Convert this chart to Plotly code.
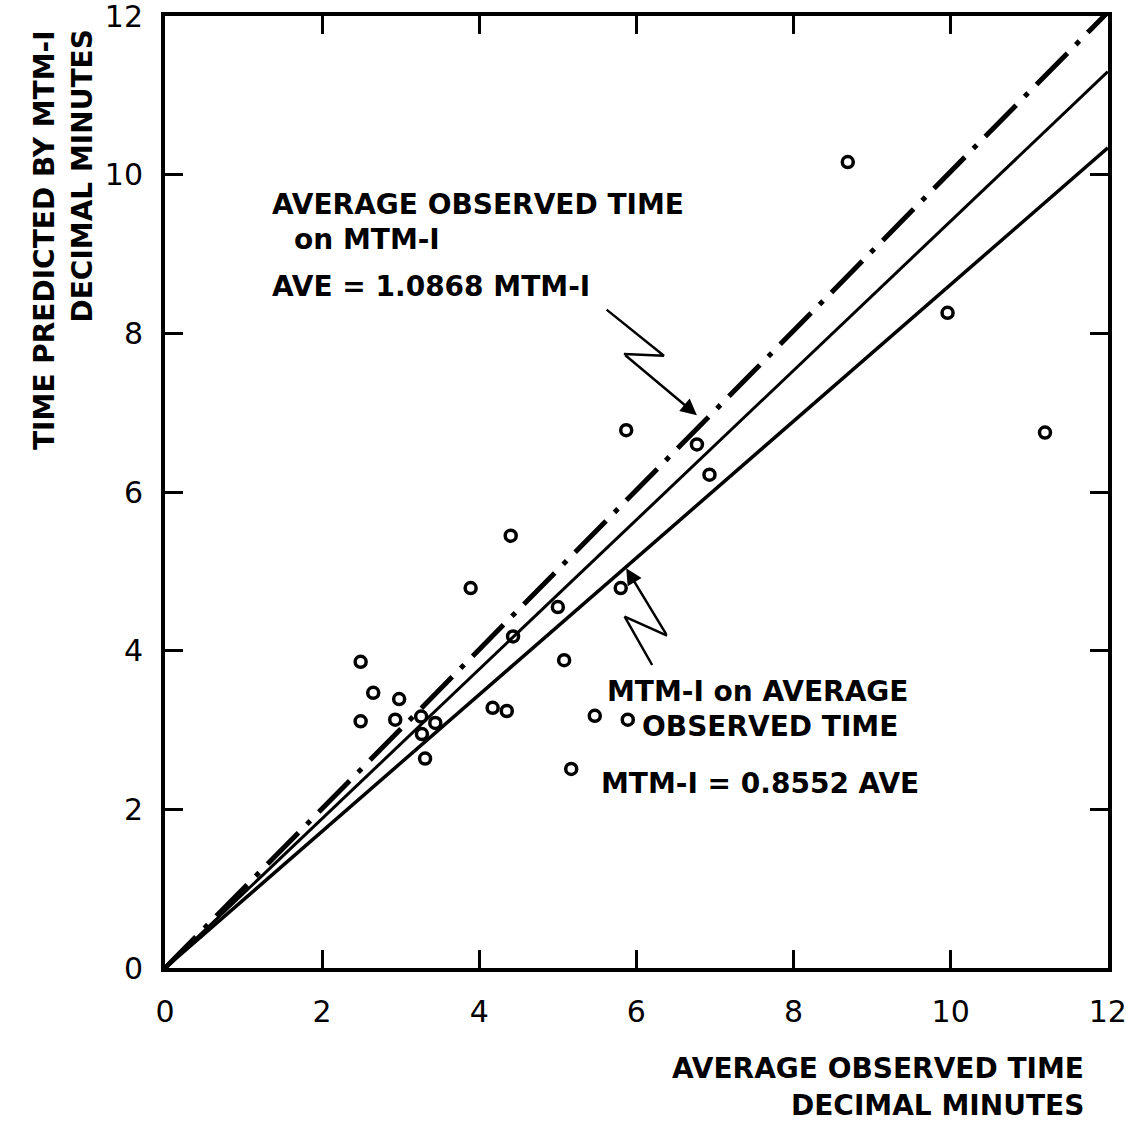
import plotly.graph_objects as go

# ---- data ----
obs_time = [8.69, 9.96, 11.20, 6.77, 6.93, 5.87, 4.40, 3.89, 5.80, 5.00, 4.43, 5.08,
            2.49, 2.65, 2.98, 2.49, 2.93, 3.27, 3.44, 3.31, 4.17, 4.35, 5.47, 5.89, 5.17, 3.26]
mtm_time = [10.16, 8.26, 6.75, 6.60, 6.22, 6.78, 5.45, 4.79, 4.79, 4.55, 4.18, 3.88,
            3.86, 3.47, 3.39, 3.11, 3.13, 2.95, 3.09, 2.64, 3.28, 3.24, 3.18, 3.13, 2.51, 3.17]

line_x = [0, 12]
equal_y = [0, 12.05]          # dash-dot line
ave_on_mtm_y = [0, 11.30]     # AVE = 1.0868 MTM-1
mtm_on_ave_y = [0, 10.34]     # MTM-1 = 0.8552 AVE

tick_vals = [0, 2, 4, 6, 8, 10, 12]
tick_text = ["0", "2", "4", "6", "8", "10", "12"]

# zig-zag pointer geometry (data units)
zig1_x = [5.62, 6.35, 5.84, 6.77]
zig1_y = [8.30, 7.72, 7.74, 6.97]
zig2_x = [6.20, 5.85, 6.39, 5.87]
zig2_y = [3.82, 4.43, 4.19, 5.04]

FONT = "DejaVu Sans"
fig = go.Figure()

fig.add_trace(go.Scatter(x=line_x, y=equal_y, mode="lines",
                         line=dict(color="black", width=5, dash="44px,12px,5px,12px"),
                         showlegend=False, hoverinfo="skip"))
fig.add_trace(go.Scatter(x=line_x, y=ave_on_mtm_y, mode="lines",
                         line=dict(color="black", width=3), showlegend=False, hoverinfo="skip"))
fig.add_trace(go.Scatter(x=line_x, y=mtm_on_ave_y, mode="lines",
                         line=dict(color="black", width=3.5), showlegend=False, hoverinfo="skip"))

fig.add_trace(go.Scatter(x=obs_time, y=mtm_time, mode="markers",
                         marker=dict(symbol="circle-open", size=11, color="black",
                                     line=dict(width=3.5, color="black")),
                         showlegend=False))

# zig-zag pointers
for zx, zy in ((zig1_x, zig1_y), (zig2_x, zig2_y)):
    fig.add_trace(go.Scatter(x=zx[:-1], y=zy[:-1], mode="lines",
                             line=dict(color="black", width=2.5), showlegend=False, hoverinfo="skip"))
    fig.add_annotation(x=zx[-1], y=zy[-1], ax=zx[-2], ay=zy[-2], xref="x", yref="y",
                       axref="x", ayref="y", text="", showarrow=True, arrowhead=2,
                       arrowsize=1.3, arrowwidth=2.5, arrowcolor="black")

tfont = dict(family=FONT, size=28, color="black", weight="bold")
labels = [
    (1.34, 9.63, "AVERAGE OBSERVED TIME"),
    (1.62, 9.18, "on MTM-I"),
    (1.34, 8.59, "AVE = 1.0868 MTM-I"),
    (5.60, 3.49, "MTM-I on AVERAGE"),
    (6.04, 3.04, "OBSERVED TIME"),
    (5.53, 2.32, "MTM-I = 0.8552 AVE"),
]
for x, y, t in labels:
    fig.add_annotation(x=x, y=y, xref="x", yref="y", text=t, showarrow=False,
                       xanchor="left", yanchor="middle", font=tfont)

# axis titles (positions given in pixels from the top-left, converted below)
fig.add_annotation(x=45, y=28, xref="paper", yref="paper", text="TIME PREDICTED BY MTM-I",
                   showarrow=False, textangle=-90, xanchor="center", yanchor="top", font=tfont)
fig.add_annotation(x=82, y=28, xref="paper", yref="paper", text="DECIMAL MINUTES",
                   showarrow=False, textangle=-90, xanchor="center", yanchor="top", font=tfont)
fig.add_annotation(x=1086, y=1068, xref="paper", yref="paper", text="AVERAGE OBSERVED TIME",
                   showarrow=False, xanchor="right", yanchor="middle", font=tfont)
fig.add_annotation(x=1086, y=1105, xref="paper", yref="paper", text="DECIMAL MINUTES",
                   showarrow=False, xanchor="right", yanchor="middle", font=tfont)

L, R, T, B = 165, 18, 16, 158
W = H = 1126
pw, ph = W - L - R, H - T - B
for a in fig.layout.annotations:
    if a.xref == "paper":
        a.x = (a.x - L) / pw
        a.y = (H - a.y - B) / ph

axis_common = dict(range=[0, 12.002], tickvals=tick_vals, ticktext=tick_text,
                   ticks="inside", ticklen=18, tickwidth=3, tickcolor="black",
                   showline=True, linewidth=4, linecolor="black", mirror="ticks",
                   showgrid=False, zeroline=False, ticklabeloverflow="allow",
                   automargin=False,
                   tickfont=dict(family=FONT, size=30, color="black"))
fig.update_xaxes(**axis_common, ticklabelstandoff=14)
fig.update_yaxes(**axis_common, ticklabelstandoff=12)

fig.update_layout(width=W, height=H, margin=dict(l=L, r=R, t=T, b=B, autoexpand=False),
                  plot_bgcolor="white", paper_bgcolor="white", showlegend=False)

fig.write_html("out.html")
